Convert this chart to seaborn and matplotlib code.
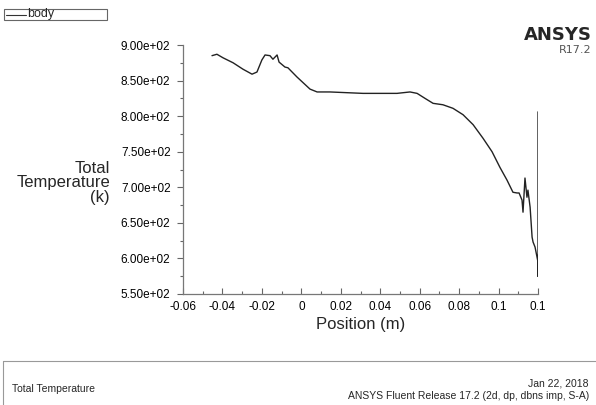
import numpy as np
import pandas as pd
import matplotlib
matplotlib.use("Agg")
import matplotlib.pyplot as plt
import seaborn as sns
from matplotlib.patches import Rectangle
from matplotlib.lines import Line2D
from matplotlib.ticker import MultipleLocator

# Total temperature along the body
position = [-0.0453, -0.0428, -0.0397, -0.0346, -0.0296, -0.0250, -0.0225,
            -0.0200, -0.0184, -0.0159, -0.0144, -0.0123, -0.0113, -0.0083,
            -0.0068, -0.0022, 0.0009, 0.0044, 0.0080, 0.0145, 0.0313, 0.0485,
            0.0551, 0.0587, 0.0627, 0.0668, 0.0718, 0.0769, 0.0820, 0.0871,
            0.0921, 0.0967, 0.1007, 0.1043, 0.1073, 0.1094, 0.1104, 0.1119,
            0.1124, 0.1134, 0.1144, 0.1149, 0.1160, 0.1170, 0.1175, 0.1185,
            0.1195, 0.1200, 0.1200, 0.1200]
total_temp = [885, 887, 882, 875, 866, 859, 862,
              879, 886, 885, 880, 886, 876, 869,
              868, 855, 847, 838, 834, 834, 832, 832,
              834, 832, 825, 818, 816, 811, 802, 788,
              769, 750, 728, 710, 693, 692, 692, 682,
              665, 713, 686, 696, 672, 630, 623, 616,
              602, 595, 575, 806]

x_ticks = [-0.06, -0.04, -0.02, 0.0, 0.02, 0.04, 0.06, 0.08, 0.10, 0.12]
x_labels = ["-0.06", "-0.04", "-0.02", "0", "0.02", "0.04", "0.06", "0.08", "0.1", "0.1"]
y_ticks = [550, 600, 650, 700, 750, 800, 850, 900]

df = pd.DataFrame({"position": position, "temp": total_temp})

sns.set_style("white")
plt.rcParams["font.family"] = ["Liberation Sans", "DejaVu Sans"]

fig = plt.figure(figsize=(5.96, 4.05), dpi=100)
ax = fig.add_axes([183 / 596, 1 - 294 / 405, 355 / 596, 249 / 405])

sns.lineplot(data=df, x="position", y="temp", sort=False, estimator=None,
             color="#222222", linewidth=1.0, ax=ax, legend=False)

ax.set_xlim(-0.06, 0.12)
ax.set_ylim(550, 900)
ax.set_xticks(x_ticks)
ax.set_xticklabels(x_labels)
ax.set_yticks(y_ticks)
ax.set_yticklabels([f"{v:.2e}" for v in y_ticks])
ax.xaxis.set_minor_locator(MultipleLocator(0.01))
ax.yaxis.set_minor_locator(MultipleLocator(25))
# seaborn's white style hides ticks; switch them back on
ax.tick_params(axis="both", which="both", bottom=True, left=True,
               labelsize=8.5, colors="#666666", labelcolor="black", width=0.8)
ax.tick_params(axis="x", which="major", direction="in", length=4, pad=5)
ax.tick_params(axis="x", which="minor", direction="in", length=2)
ax.tick_params(axis="y", which="major", direction="out", length=4, pad=5)
ax.tick_params(axis="y", which="minor", direction="out", length=2)
for side in ["top", "right"]:
    ax.spines[side].set_visible(False)
for side in ["left", "bottom"]:
    ax.spines[side].set_color("#777777")
    ax.spines[side].set_linewidth(0.9)
ax.set_xlabel("Position (m)", fontsize=12, labelpad=3)
ax.set_ylabel("")

fig.text(110 / 596, 1 - 183 / 405, "Total\nTemperature\n(k)", fontsize=12,
         ha="right", va="center", multialignment="right", linespacing=0.95)

# legend box at top-left
fig.add_artist(Rectangle((4 / 596, 1 - 20 / 405), 103 / 596, 11 / 405,
                         transform=fig.transFigure, fill=False,
                         edgecolor="#666666", linewidth=0.8))
fig.add_artist(Line2D([6 / 596, 26 / 596], [1 - 14.5 / 405, 1 - 14.5 / 405],
                      transform=fig.transFigure, color="#333333", linewidth=0.8))
fig.text(27 / 596, 1 - 14.5 / 405, "body", fontsize=9, ha="left", va="center")

# ANSYS badge
fig.text(592 / 596, 1 - 35 / 405, "ANSYS", fontsize=13, fontweight="bold",
         ha="right", va="center", family=["DejaVu Sans"])
fig.text(592 / 596, 1 - 50 / 405, "R17.2", fontsize=8, color="#555555",
         ha="right", va="center", family=["DejaVu Sans"])

# footer
fig.add_artist(Line2D([3 / 596, 1], [1 - 361 / 405, 1 - 361 / 405],
                      transform=fig.transFigure, color="#999999", linewidth=0.8))
fig.add_artist(Line2D([3 / 596, 3 / 596], [0, 1 - 361 / 405],
                      transform=fig.transFigure, color="#999999", linewidth=0.8))
fig.text(12 / 596, 1 - 389 / 405, "Total Temperature", fontsize=7.5,
         ha="left", va="center")
fig.text(589 / 596, 1 - 383 / 405, "Jan 22, 2018", fontsize=7.5,
         ha="right", va="center")
fig.text(589 / 596, 1 - 396 / 405, "ANSYS Fluent Release 17.2 (2d, dp, dbns imp, S-A)",
         fontsize=7.5, ha="right", va="center")

fig.savefig("out.png", dpi=100)
